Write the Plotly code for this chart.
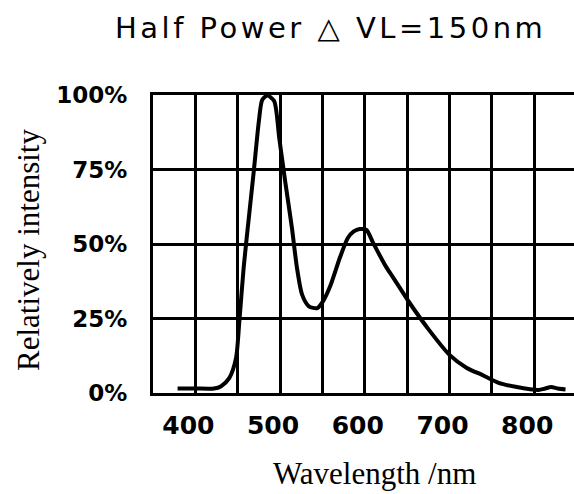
import plotly.graph_objects as go

# Data
wavelength_nm = [379, 400, 422, 430, 440, 448, 452, 457, 463, 469, 475, 479, 485,
                 493, 499, 506, 514, 520, 526, 534, 544, 551, 559, 571, 580,
                 587, 594, 602, 610, 625, 633, 653, 676, 700, 720, 739, 758, 778,
                 805, 813, 820, 828, 837]
intensity_pct = [1.5, 1.5, 1.5, 2.2, 5.0, 11.7, 24.2, 42.0, 58.5, 74.5, 91.3, 98.4, 99.8,
                 98.0, 85.6, 71.1, 55.4, 41.9, 33.0, 29.1, 28.5, 30.9, 35.7, 45.7, 52.0,
                 54.2, 55.0, 54.7, 50.3, 42.4, 39.0, 30.2, 21.1, 12.8, 8.5, 6.0, 3.4, 2.1,
                 1.0, 1.5, 2.0, 1.5, 1.2]

x_tick_vals = [400, 500, 600, 700, 800]
x_tick_text = ["400", "500", "600", "700", "800"]
y_tick_vals = [0, 25, 50, 75, 100]
y_tick_text = ["0%", "25%", "50%", "75%", "100%"]

title_text = "Half Power \u25b3 VL=150nm"
x_title = "Wavelength /nm"
y_title = "Relatively intensity"

fig = go.Figure()
fig.add_trace(go.Scatter(
    x=wavelength_nm, y=intensity_pct, mode="lines",
    line=dict(color="black", width=4, shape="spline", smoothing=0.7),
    showlegend=False, hoverinfo="skip"))

W, H = 574, 494
L, R, T, B = 153, 0, 95, 101

def px_x(px):
    return (px - L) / (W - L - R)

def px_y(py):
    return (H - B - py) / (H - T - B)

fig.update_layout(
    width=W, height=H,
    margin=dict(l=L, r=R, t=T, b=B),
    paper_bgcolor="white", plot_bgcolor="white",
    xaxis=dict(
        range=[350, 847], tickvals=x_tick_vals, ticktext=x_tick_text,
        showgrid=True, gridcolor="black", gridwidth=3,
        minor=dict(dtick=50, tick0=350, showgrid=True, gridcolor="black", gridwidth=3),
        showline=True, linecolor="black", linewidth=3, mirror=True,
        ticks="outside", ticklen=8, tickcolor="rgba(0,0,0,0)",
        ticklabelshift=-7,
        tickfont=dict(family="DejaVu Sans", size=25, color="black", weight="bold"),
        zeroline=False, fixedrange=True),
    yaxis=dict(
        range=[0, 100], tickvals=y_tick_vals, ticktext=y_tick_text,
        showgrid=True, gridcolor="black", gridwidth=3,
        showline=True, linecolor="black", linewidth=3, mirror=False,
        ticks="outside", ticklen=18, tickcolor="rgba(0,0,0,0)",
        tickfont=dict(family="DejaVu Sans", size=23, color="black", weight="bold"),
        zeroline=False, fixedrange=True),
    annotations=[
        dict(text='<span style="letter-spacing:3.5px">' + title_text + '</span>',
             xref="paper", yref="paper", x=px_x(330), y=px_y(28),
             xanchor="center", yanchor="middle", showarrow=False,
             font=dict(family="DejaVu Sans", size=29, color="black")),
        dict(text=x_title, xref="paper", yref="paper", x=px_x(374), y=px_y(473),
             xanchor="center", yanchor="middle", showarrow=False,
             font=dict(family="Liberation Serif", size=31, color="black")),
        dict(text=y_title, xref="paper", yref="paper", x=px_x(28), y=px_y(250),
             xanchor="center", yanchor="middle", showarrow=False, textangle=-90,
             font=dict(family="Liberation Serif", size=31, color="black")),
    ],
)

fig.write_html("out.html")
